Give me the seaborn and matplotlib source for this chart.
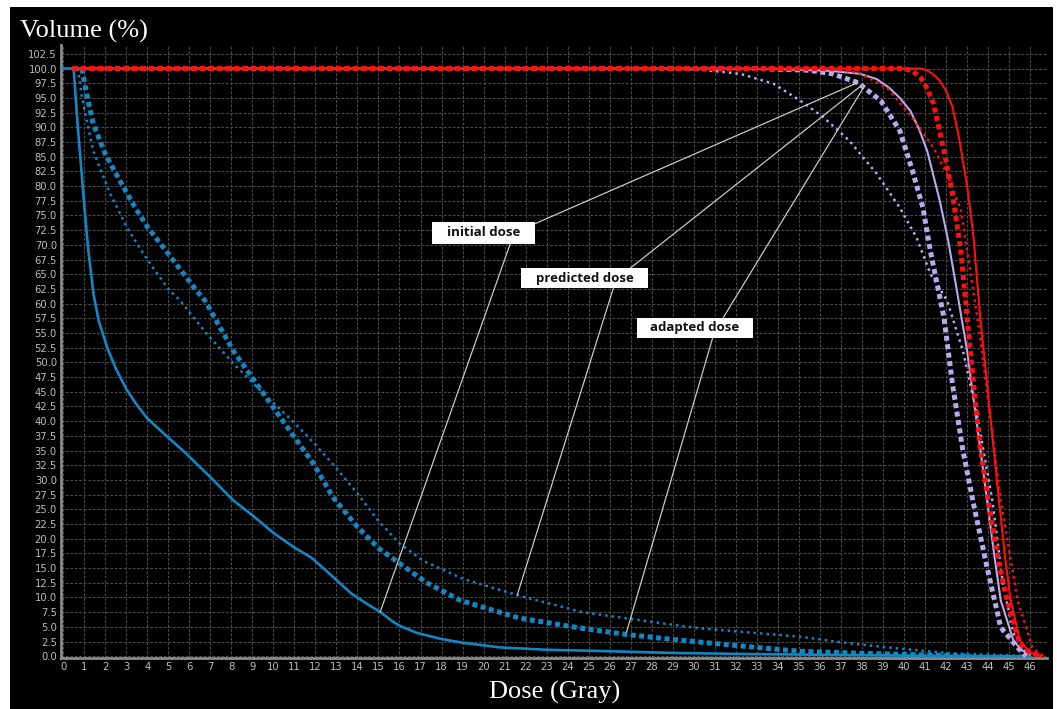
import numpy as np
import pandas as pd
import seaborn as sns
import matplotlib.pyplot as plt
from matplotlib.patches import Rectangle

# DVH curves (dose in Gy, volume in %)
blue_solid_x = [0, 0.5, 0.7, 1.0, 1.2, 1.45, 1.7, 2.1, 2.5, 3.0, 3.5, 4.0, 5.0, 5.7, 7.0, 8.1, 9.0, 10.0,
                11.0, 11.8, 12.5, 13.7, 14.5, 15.1, 15.6, 16.0, 16.8, 17.9, 19.0, 20.8, 23, 25.5, 28.9,
                32, 36, 40, 43, 46]
blue_solid_y = [100, 100, 90, 77, 69, 61.5, 57, 52.5, 49, 45.5, 42.8, 40.5, 37.2, 35, 30.5, 26.5, 24, 21,
                18.5, 16.8, 14.6, 10.7, 8.8, 7.5, 6.1, 5.2, 4.0, 3.0, 2.3, 1.5, 1.1, 0.9, 0.57,
                0.4, 0.25, 0.12, 0.05, 0]

blue_thick_x = [0.9, 1.1, 1.43, 2.0, 2.7, 3.4, 4.04, 5.0, 6.28, 6.75, 8.09, 10.0, 11.9, 12.85, 14.0, 15.0,
                16.0, 17.3, 18.9, 21.7, 24.6, 26.8, 28.9, 30.3, 33, 35, 37.5, 39.8, 42.5, 43.2]
blue_thick_y = [100, 96, 90.6, 85.5, 80.9, 76.5, 72.9, 68.5, 62.5, 60.5, 52, 42.3, 32.8, 27, 22, 18.4,
                15.8, 12.5, 9.5, 6.5, 4.8, 3.7, 2.9, 2.4, 1.5, 0.85, 0.55, 0.34, 0.1, 0]

blue_thin_x = [0.7, 0.9, 1.43, 2.2, 3.04, 4.0, 5.0, 5.57, 6.8, 8.1, 9.5, 10.9, 12.0, 13.0, 14.0, 15.0,
               16.0, 17.1, 19.0, 21.6, 24.7, 28.9, 30.3, 35.1, 37.4, 39.8, 42.2, 45.5, 46]
blue_thin_y = [100, 95, 86, 79, 72.9, 67.5, 62.5, 60.5, 55, 49.8, 44.8, 40.1, 36, 32, 27.7, 23,
               19.2, 16.3, 13.2, 10.4, 7.5, 5.4, 4.75, 3.3, 2.2, 1.3, 0.5, 0.1, 0]

lav_solid_x = [0.45, 31, 34, 36.5, 37.9, 38.7, 39.3, 39.8, 40.3, 40.7, 41.1, 41.7, 42.1, 42.5, 43.0, 43.6,
               43.95, 44.3, 44.6, 45.2, 45.6, 46.0]
lav_solid_y = [100, 100, 99.9, 99.6, 99.1, 98.2, 96.7, 95, 92.8, 89.8, 86, 77.5, 70.7, 62.5, 52, 36,
               26.5, 17, 9.5, 2.7, 1.0, 0.3]

lav_thick_x = [0.45, 33, 35.5, 36.6, 37.8, 38.9, 39.8, 40.4, 40.9, 41.25, 41.9, 42.3, 42.8, 43.3, 43.95,
               44.6, 45.4, 45.8]
lav_thick_y = [100, 100, 99.7, 99.1, 97.6, 94.5, 89.4, 82.6, 76.3, 69, 57.6, 46.4, 35, 26, 15.1,
               4.9, 1.5, 0]

lav_thin_x = [0.45, 29, 30.3, 32.2, 33.8, 35.2, 36.2, 37.4, 38.7, 39.8, 40.6, 41.25, 42.05, 42.8, 43.5,
              44.2, 44.7, 45.2, 45.8]
lav_thin_y = [100, 100, 99.8, 99.1, 97.4, 94.2, 91.6, 87.7, 82.1, 76.3, 71.2, 65.1, 60.5, 52, 40.6,
              26.5, 12.4, 3.9, 0.5]

red_solid_x = [0.45, 40.8, 41.1, 41.4, 41.7, 42.0, 42.3, 42.6, 43.0, 43.3, 43.6, 44.1, 44.5, 44.8, 45.05,
               45.5, 46.0, 46.5]
red_solid_y = [100, 100, 99.7, 99.0, 97.9, 96.2, 93.5, 88.5, 80, 71.5, 58.5, 41, 27, 17, 10,
               2.7, 0.6, 0]

red_thick_x = [0.45, 40.0, 40.4, 40.8, 41.1, 41.4, 41.9, 42.3, 42.7, 43.15, 43.6, 44.0, 44.5, 44.9, 45.5,
               46.0, 46.6]
red_thick_y = [100, 100, 99.6, 98.4, 96.6, 94, 86, 78.7, 69, 52, 36, 26.5, 16, 9.5, 2.2,
               0.6, 0]

red_thin_x = [0.45, 36.5, 37.9, 39.2, 40.4, 41.4, 42.05, 42.7, 43.0, 43.6, 44.1, 44.6, 45.4, 46.1, 46.6]
red_thin_y = [100, 100, 99.2, 96.7, 91.6, 86.5, 82, 76, 69, 54.9, 40.6, 26.5, 9.5, 1.5, 0]

# annotation labels: text, box centre, line start/end points (upper and lower)
ann_labels = ['initial dose', 'predicted dose', 'adapted dose']
ann_centre = [(20.0, 72.05), (24.8, 64.3), (30.05, 55.9)]
ann_size = [(4.9, 3.7), (6.0, 3.4), (5.5, 3.4)]
ann_upper = [((22.45, 73.6), (37.8, 97.6)), ((26.97, 66.0), (37.9, 96.9)), ((31.4, 57.6), (38.06, 96.7))]
ann_lower = [((21.27, 70.2), (15.08, 7.5)), ((26.17, 62.6), (21.6, 10.4)), ((30.9, 54.2), (26.8, 4.1))]

BLUE = '#1088c4'
LAV = '#b8aaee'
RED = '#ff1010'

sns.set_style('dark')
plt.rcParams['font.family'] = ['DejaVu Sans']

fig = plt.figure(figsize=(10.57, 7.09), dpi=100, facecolor='white')
fig.patches.append(Rectangle((10 / 1057, 0), 1043 / 1057, 702 / 709, transform=fig.transFigure,
                             facecolor='black', edgecolor='none', zorder=-10))
ax = fig.add_axes([61 / 1057, 1 - 658 / 709, (1047 - 61) / 1057, (658 - 45) / 709])
ax.set_facecolor('black')

solid = dict(linestyle='-', linewidth=1.5)
thick = dict(linestyle=(0, (1, 0.7)), linewidth=3.6)
thin = dict(linestyle=(0, (1, 1.6)), linewidth=1.8)

series = [
    (blue_solid_x, blue_solid_y, BLUE, dict(linestyle='-', linewidth=1.9)),
    (blue_thin_x, blue_thin_y, BLUE, thin),
    (blue_thick_x, blue_thick_y, BLUE, thick),
    (lav_thin_x, lav_thin_y, LAV, thin),
    (lav_thick_x, lav_thick_y, LAV, thick),
    (lav_solid_x, lav_solid_y, LAV, solid),
    (red_thin_x, red_thin_y, RED, thin),
    (red_solid_x, red_solid_y, RED, solid),
    (red_thick_x, red_thick_y, RED, thick),
]
for xs, ys, c, st in series:
    df = pd.DataFrame({'dose': xs, 'volume': ys})
    sns.lineplot(data=df, x='dose', y='volume', ax=ax, color=c, sort=False,
                 estimator=None, zorder=3, **st)

# annotation lines and boxes
for (p0, p1), (q0, q1) in zip(ann_upper, ann_lower):
    ax.plot([p0[0], p1[0]], [p0[1], p1[1]], color='#c8c8c8', lw=0.9, zorder=4)
    ax.plot([q0[0], q1[0]], [q0[1], q1[1]], color='#c8c8c8', lw=0.9, zorder=4)
for lab, (cx, cy), (w, h) in zip(ann_labels, ann_centre, ann_size):
    ax.add_patch(Rectangle((cx - w / 2, cy - h / 2), w, h, facecolor='white', edgecolor='none', zorder=5))
    ax.text(cx, cy, lab, ha='center', va='center', fontsize=9.5, fontweight='bold',
            family='Open Sans', color='#111111', zorder=6)

ax.set_xlim(-0.1, 46.8)
ax.set_ylim(-0.3, 104)
ax.set_xticks(np.arange(0, 47, 1))
ax.set_yticks(np.arange(0, 103, 2.5))
ax.set_yticklabels([f'{v:.1f}' for v in np.arange(0, 103, 2.5)])
ax.tick_params(colors='#bdbdbd', labelsize=7.2, length=0, pad=3)
ax.grid(True, color='#4a4a4a', linestyle=(0, (2.5, 1.5)), linewidth=0.8)
ax.set_axisbelow(True)
for s in ['top', 'right']:
    ax.spines[s].set_visible(False)
for s in ['left', 'bottom']:
    ax.spines[s].set_visible(True)
    ax.spines[s].set_color('#8a8a8a')
    ax.spines[s].set_linewidth(2)
ax.set_xlabel('')
ax.set_ylabel('')

fig.text(20 / 1057, 1 - 31 / 709, 'Volume (%)', family='Liberation Serif', fontsize=19,
         color='white', va='center', ha='left')
fig.text(555 / 1057, 1 - 692 / 709, 'Dose (Gray)', family='Liberation Serif', fontsize=19,
         color='white', va='center', ha='center')

fig.savefig('out.png', dpi=100, facecolor='white')
